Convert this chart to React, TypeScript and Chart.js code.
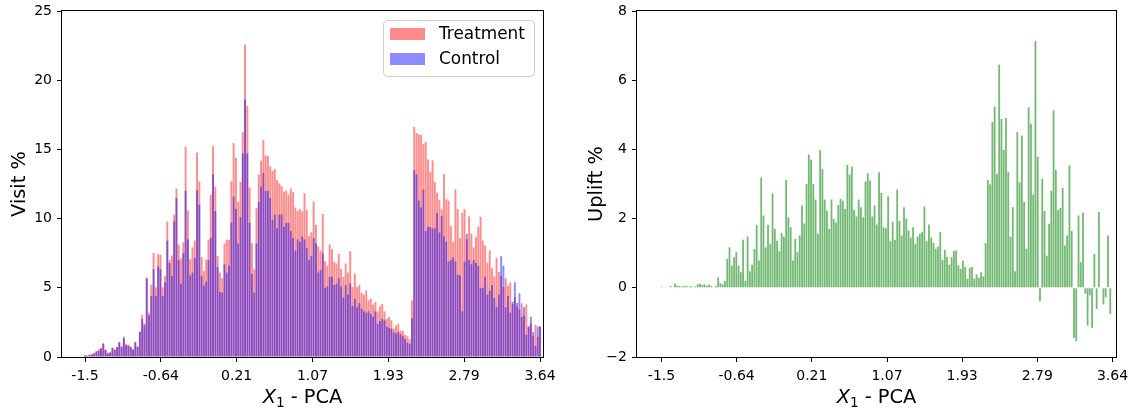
import React, { useEffect, useRef } from 'react';
import { Chart, registerables } from 'chart.js';

Chart.register(...registerables);

const FONT = '"DejaVu Sans", "Liberation Sans", sans-serif';
Chart.defaults.font.family = FONT;

const tickLabels = ['-1.5', '-0.64', '0.21', '1.07', '1.93', '2.79', '3.64'];
const legendTitles = ['Treatment', 'Control'];
const yTitleLeft = 'Visit %';
const yTitleRight = 'Uplift %';

const treatment = [
  0.13, 0.1, 0.17, 0.2, 0.3, 0.42, 0.57, 0.66, 1.0, 0.54,
  0.3, 0.36, 0.68, 0.55, 0.72, 1.09, 0.8, 1.47, 0.93, 0.9,
  0.76, 0.59, 1.1, 0.73, 1.85, 3.05, 2.43, 5.76, 3.2, 5.23,
  7.52, 5.04, 7.43, 7.38, 5.04, 5.85, 9.79, 7.0, 7.33, 10.28,
  12.17, 8.12, 7.12, 8.29, 15.19, 10.59, 7.07, 7.92, 8.42, 14.78,
  12.7, 7.21, 6.21, 7.03, 8.48, 11.72, 15.24, 12.3, 7.29, 6.11,
  5.68, 8.21, 8.48, 8.46, 12.7, 15.45, 14.4, 11.2, 12.65, 16.26,
  22.58, 18.13, 12.25, 8.23, 6.35, 10.75, 13.19, 14.19, 15.69, 14.57,
  14.52, 13.78, 13.45, 13.57, 12.8, 12.55, 12.36, 11.95, 12.03, 11.74,
  12.17, 11.91, 10.8, 10.56, 10.68, 10.53, 11.84, 10.64, 8.75, 9.02,
  11.24, 9.55, 8.0, 7.69, 10.34, 6.93, 6.61, 8.13, 7.8, 6.86,
  6.75, 7.45, 6.37, 5.78, 6.76, 6.11, 7.65, 5.05, 6.03, 5.05,
  5.2, 4.63, 4.49, 4.81, 4.11, 4.2, 3.79, 3.97, 3.29, 3.66,
  3.83, 3.3, 2.75, 2.89, 2.65, 2.06, 2.28, 2.4, 1.91, 1.89,
  1.59, 1.5, 1.28, 4.09, 16.62, 16.19, 16.09, 16.04, 15.39, 15.55,
  14.28, 13.39, 14.21, 12.64, 11.88, 11.33, 10.68, 13.2, 11.4, 11.3,
  9.48, 8.33, 12.12, 10.69, 8.6, 10.43, 10.68, 8.51, 10.15, 8.92,
  7.93, 8.65, 9.41, 10.13, 8.41, 8.05, 6.81, 7.69, 6.42, 5.81,
  7.14, 6.14, 5.85, 5.06, 5.69, 5.14, 5.37, 3.83, 4.31, 3.68,
  3.44, 3.88, 2.99, 3.79, 2.2, 2.42, 1.53, 2.31, 1.45, 2.2,
];

const control = [
  0.1, 0.1, 0.15, 0.2, 0.25, 0.4, 0.45, 0.6, 0.95, 0.5,
  0.25, 0.3, 0.65, 0.5, 0.7, 1.05, 0.7, 1.35, 0.85, 0.8,
  0.7, 0.5, 1.05, 0.75, 1.8, 2.75, 2.3, 5.66, 3.0, 4.4,
  6.35, 4.4, 6.55, 6.35, 4.4, 5.4, 8.4, 6.8, 5.85, 9.8,
  11.5, 7.0, 5.3, 7.5, 12.0, 8.5, 5.9, 6.1, 7.15, 12.05,
  11.0, 5.85, 5.15, 5.45, 7.0, 8.6, 13.2, 10.55, 6.5, 4.7,
  4.65, 6.7, 6.1, 6.6, 9.7, 11.6, 10.7, 8.2, 10.1, 14.7,
  18.6, 14.7, 9.7, 6.0, 4.65, 8.2, 11.2, 12.3, 13.3, 12.0,
  12.0, 11.5, 9.9, 10.3, 9.3, 10.3, 10.3, 9.4, 9.7, 9.7,
  9.1, 8.6, 7.7, 8.5, 8.3, 8.7, 8.5, 7.9, 7.0, 7.3,
  8.6, 8.2, 6.1, 6.3, 7.5, 5.0, 5.1, 5.8, 5.8, 5.2,
  5.3, 5.7, 5.1, 4.3, 5.2, 4.5, 5.3, 3.7, 4.2, 3.6,
  3.9, 3.5, 3.3, 3.2, 3.3, 3.1, 2.9, 3.3, 2.4, 2.6,
  2.75, 2.65, 2.2, 2.1, 2.05, 1.8, 1.7, 1.8, 1.65, 1.5,
  1.3, 1.05, 0.95, 2.8, 13.5, 13.2, 11.3, 10.8, 12.1, 9.1,
  9.4, 9.4, 9.3, 9.3, 10.4, 9.0, 10.2, 8.7, 8.35, 6.9,
  7.0, 7.2, 6.9, 5.95, 5.9, 3.3, 6.9, 8.9, 7.0, 6.7,
  7.0, 6.8, 6.6, 5.0, 5.0, 5.8, 4.5, 4.8, 5.2, 4.3,
  3.6, 4.5, 7.3, 6.6, 3.6, 4.4, 3.2, 4.0, 5.4, 3.9,
  4.6, 2.9, 3.6, 1.6, 2.2, 2.9, 1.8, 0.8, 2.2, 2.2,
];

const uplift = [
  0.03, 0, 0.02, 0, 0.05, 0.02, 0.12, 0.06, 0.05, 0.04,
  0.05, 0.06, 0.03, 0.05, 0.02, 0.04, 0.1, 0.12, 0.08, 0.1,
  0.06, 0.09, 0.05, -0.02, 0.05, 0.3, 0.13, 0.1, 0.2, 0.83,
  1.17, 0.64, 0.88, 1.03, 0.64, 0.45, 1.39, 0.2, 1.48, 0.48,
  0.67, 1.12, 1.82, 0.79, 3.19, 2.09, 1.17, 1.82, 1.27, 2.73,
  1.7, 1.36, 1.06, 1.58, 1.48, 3.12, 2.04, 1.75, 0.79, 1.41,
  1.03, 1.51, 2.38, 1.86, 3.0, 3.85, 3.7, 3.0, 2.55, 1.56,
  3.98, 3.43, 2.55, 2.23, 1.7, 2.55, 1.99, 1.89, 2.39, 2.57,
  2.52, 2.28, 3.55, 3.27, 3.5, 2.25, 2.06, 2.55, 2.33, 2.04,
  3.07, 3.31, 3.1, 2.06, 2.38, 1.83, 3.34, 2.74, 1.75, 1.72,
  2.64, 1.35, 1.9, 1.39, 2.84, 1.93, 1.51, 2.33, 2.0, 1.66,
  1.45, 1.75, 1.27, 1.48, 1.56, 1.61, 2.35, 1.35, 1.83, 1.45,
  1.3, 1.13, 1.19, 1.61, 0.81, 1.1, 0.89, 0.67, 0.89, 1.06,
  1.08, 0.65, 0.55, 0.79, 0.6, 0.26, 0.58, 0.6, 0.26, 0.39,
  0.29, 0.45, 0.33, 1.29, 3.12, 2.99, 4.79, 5.24, 3.29, 6.45,
  4.88, 3.99, 4.91, 3.34, 1.48, 2.33, 0.48, 4.5, 3.05, 4.4,
  2.48, 1.13, 5.22, 4.74, 2.7, 7.13, 3.78, -0.39, 3.15, 2.22,
  0.93, 1.85, 2.81, 5.13, 3.41, 2.25, 2.31, 2.89, 1.22, 1.51,
  3.54, 1.64, -1.45, -1.54, 2.09, 0.74, 2.17, -0.17, -1.09, -0.22,
  -1.16, 0.98, -0.61, 2.19, 0, -0.48, -0.27, 1.51, -0.75, 0,
];

const RED = 'rgba(255,0,0,0.45)';
const BLUE = 'rgba(0,0,255,0.45)';
const GREEN = 'rgba(0,128,0,0.55)';

const TICK_FONT = { family: FONT, size: 14 };
const TITLE_SIZE = 19.4;

function toPoints(arr: number[]) {
  return arr.map((v, i) => ({ x: i, y: v }));
}

function fmtMinus(v: number) {
  return v < 0 ? '\u2212' + Math.abs(v) : String(v);
}

const decorPlugin = {
  id: 'decor',
  afterDraw(chart: any, _args: any, opts: any) {
    const { ctx, chartArea: a } = chart;
    ctx.save();
    // frame
    ctx.strokeStyle = '#000';
    ctx.lineWidth = 1;
    ctx.strokeRect(
      Math.round(a.left) - 0.5,
      Math.round(a.top) - 0.5,
      Math.round(a.right) - Math.round(a.left) + 1,
      Math.round(a.bottom) - Math.round(a.top) + 1
    );
    ctx.fillStyle = '#000';
    // y title
    ctx.save();
    ctx.font = `${TITLE_SIZE}px ${FONT}`;
    ctx.textAlign = 'center';
    ctx.textBaseline = 'middle';
    ctx.translate(opts.yTitleX, (a.top + a.bottom) / 2);
    ctx.rotate(-Math.PI / 2);
    ctx.fillText(opts.yTitle, 0, 0);
    ctx.restore();
    // x title: X_1 - PCA
    const cx = (a.left + a.right) / 2;
    const baseY = opts.xTitleBase;
    ctx.textBaseline = 'alphabetic';
    ctx.textAlign = 'left';
    ctx.font = `italic ${TITLE_SIZE}px ${FONT}`;
    const wX = ctx.measureText('X').width;
    ctx.font = `${TITLE_SIZE * 0.7}px ${FONT}`;
    const w1 = ctx.measureText('1').width;
    ctx.font = `${TITLE_SIZE}px ${FONT}`;
    const wR = ctx.measureText(' - PCA').width;
    let x = cx - (wX + w1 + wR) / 2;
    ctx.font = `italic ${TITLE_SIZE}px ${FONT}`;
    ctx.fillText('X', x, baseY);
    x += wX;
    ctx.font = `${TITLE_SIZE * 0.7}px ${FONT}`;
    ctx.fillText('1', x, baseY + 4);
    x += w1;
    ctx.font = `${TITLE_SIZE}px ${FONT}`;
    ctx.fillText(' - PCA', x, baseY);
    // legend
    if (opts.legend) {
      const L = opts.legend;
      const r = 4;
      const bx = L.x + 0.5, by = L.y + 0.5, bw = L.w, bh = L.h;
      ctx.beginPath();
      ctx.moveTo(bx + r, by);
      ctx.lineTo(bx + bw - r, by);
      ctx.quadraticCurveTo(bx + bw, by, bx + bw, by + r);
      ctx.lineTo(bx + bw, by + bh - r);
      ctx.quadraticCurveTo(bx + bw, by + bh, bx + bw - r, by + bh);
      ctx.lineTo(bx + r, by + bh);
      ctx.quadraticCurveTo(bx, by + bh, bx, by + bh - r);
      ctx.lineTo(bx, by + r);
      ctx.quadraticCurveTo(bx, by, bx + r, by);
      ctx.closePath();
      ctx.fillStyle = 'rgba(255,255,255,0.8)';
      ctx.fill();
      ctx.strokeStyle = '#cccccc';
      ctx.lineWidth = 1;
      ctx.stroke();
      const ds = chart.data.datasets;
      ctx.font = `16.9px ${FONT}`;
      ctx.textBaseline = 'middle';
      ctx.textAlign = 'left';
      ds.forEach((d: any, k: number) => {
        const py = L.y + 8 + k * 25;
        ctx.fillStyle = d.backgroundColor;
        ctx.fillRect(L.x + 7, py, 35, 12);
        ctx.fillStyle = '#000';
        ctx.fillText(d.label, L.x + 56, py + 6.5);
      });
    }
    ctx.restore();
  },
};

function makeX(min: number, max: number) {
  return {
    type: 'linear' as const,
    min,
    max,
    offset: false,
    grid: {
      display: true,
      drawOnChartArea: false,
      drawTicks: true,
      tickLength: 5,
      color: '#000',
      lineWidth: 1,
      offset: false,
    },
    border: { display: false },
    afterBuildTicks: (scale: any) => {
      const last = treatment.length - 1;
      scale.ticks = tickLabels.map((_, k) => ({ value: (last * k) / 6 }));
    },
    ticks: {
      autoSkip: false,
      maxRotation: 0,
      minRotation: 0,
      font: TICK_FONT,
      color: '#000',
      padding: 6,
      callback: (_v: any, i: number) => tickLabels[i],
    },
    afterFit: (scale: any) => {
      scale.height = 52;
      scale.paddingLeft = 0;
      scale.paddingRight = 0;
    },
  };
}

function makeY(min: number, max: number, step: number, width: number) {
  return {
    type: 'linear' as const,
    min,
    max,
    grid: {
      display: true,
      drawOnChartArea: false,
      drawTicks: true,
      tickLength: 5,
      color: '#000',
      lineWidth: 1,
    },
    border: { display: false },
    ticks: {
      stepSize: step,
      font: TICK_FONT,
      color: '#000',
      padding: 5,
      callback: (v: any) => fmtMinus(Number(v)),
    },
    afterFit: (scale: any) => {
      scale.width = width;
      scale.paddingTop = 0;
      scale.paddingBottom = 0;
    },
  };
}

function useChart(ref: React.RefObject<HTMLCanvasElement>, build: () => any) {
  useEffect(() => {
    if (!ref.current) return;
    const chart = new Chart(ref.current, build());
    return () => chart.destroy();
  }, []);
}

export default function App() {
  const leftRef = useRef<HTMLCanvasElement>(null);
  const rightRef = useRef<HTMLCanvasElement>(null);

  useChart(leftRef, () => ({
    type: 'bar',
    data: {
      datasets: [
        {
          label: legendTitles[0],
          data: toPoints(treatment),
          backgroundColor: RED,
          grouped: false,
          order: 2,
          barPercentage: 0.85,
          categoryPercentage: 1,
          borderWidth: 0,
          inflateAmount: 0,
        },
        {
          label: legendTitles[1],
          data: toPoints(control),
          backgroundColor: BLUE,
          grouped: false,
          order: 1,
          barPercentage: 0.85,
          categoryPercentage: 1,
          borderWidth: 0,
          inflateAmount: 0,
        },
      ],
    },
    options: {
      responsive: false,
      maintainAspectRatio: false,
      animation: false,
      devicePixelRatio: 1,
      layout: { padding: { left: 0, right: 26, top: 11, bottom: 0 } },
      scales: {
        x: makeX(-10.06, 200.31),
        y: makeY(0, 25, 5, 62),
      },
      plugins: {
        legend: { display: false },
        tooltip: { enabled: false },
        decor: {
          yTitle: yTitleLeft,
          yTitleX: 20,
          xTitleBase: 403,
          legend: { x: 383, y: 20, w: 151, h: 56 },
        },
      },
    },
    plugins: [decorPlugin],
  }));

  useChart(rightRef, () => ({
    type: 'bar',
    data: {
      datasets: [
        {
          label: 'Uplift',
          data: toPoints(uplift),
          backgroundColor: GREEN,
          barPercentage: 0.8,
          categoryPercentage: 1,
          borderWidth: 0,
          inflateAmount: 0,
        },
      ],
    },
    options: {
      responsive: false,
      maintainAspectRatio: false,
      animation: false,
      devicePixelRatio: 1,
      layout: { padding: { left: 0, right: 22, top: 11, bottom: 0 } },
      scales: {
        x: makeX(-10.81, 200.54),
        y: makeY(-2, 8, 2, 68),
      },
      plugins: {
        legend: { display: false },
        tooltip: { enabled: false },
        decor: {
          yTitle: yTitleRight,
          yTitleX: 597 - 569,
          xTitleBase: 403,
        },
      },
    },
    plugins: [decorPlugin],
  }));

  return (
    <div
      style={{
        position: 'fixed',
        left: 0,
        top: 0,
        width: 1138,
        height: 409,
        background: '#fff',
        overflow: 'hidden',
      }}
    >
      <canvas
        ref={leftRef}
        width={569}
        height={409}
        style={{ position: 'absolute', left: 0, top: 0, width: 569, height: 409 }}
      />
      <canvas
        ref={rightRef}
        width={569}
        height={409}
        style={{ position: 'absolute', left: 569, top: 0, width: 569, height: 409 }}
      />
    </div>
  );
}
